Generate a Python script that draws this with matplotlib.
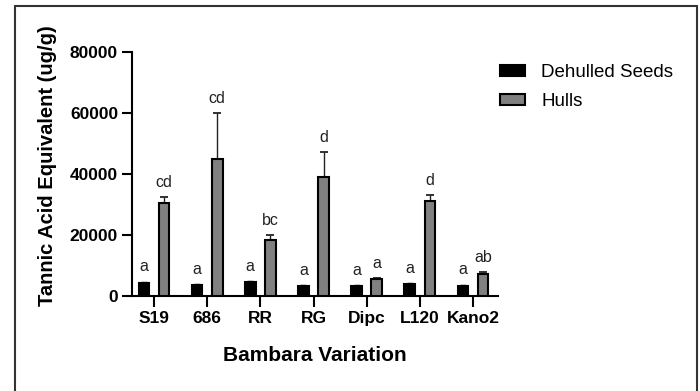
import numpy as np
import matplotlib.pyplot as plt
from matplotlib.patches import Patch, Rectangle

plt.rcParams['font.family'] = ['Liberation Sans', 'DejaVu Sans']

# data
varieties = ['S19', '686', 'RR', 'RG', 'Dipc', 'L120', 'Kano2']
dehulled = [4400, 3600, 4500, 3300, 3300, 3800, 3400]
dehulled_err = [300, 250, 300, 300, 250, 300, 250]
hulls = [30500, 45000, 18400, 39100, 5500, 31300, 7100]
hulls_err = [1900, 15000, 1600, 8200, 500, 1800, 900]
dehulled_letters = ['a', 'a', 'a', 'a', 'a', 'a', 'a']
hulls_letters = ['cd', 'cd', 'bc', 'd', 'a', 'd', 'ab']

x = np.arange(len(varieties))
width = 0.2
offset = 0.19

fig = plt.figure(figsize=(7, 3.91), dpi=100)
ax = fig.add_axes([132 / 700, 1 - 296 / 391, 366 / 700, 244 / 391])

# outer frame around the whole figure
fig.patches.append(Rectangle((15 / 700, -0.05), 682 / 700, 1.05 - 6 / 391,
                             transform=fig.transFigure, fill=False,
                             edgecolor='#333333', linewidth=1.5))

ax.bar(x - offset, dehulled, width, color='black', edgecolor='black',
       linewidth=1.5, zorder=3)
ax.bar(x + offset, hulls, width, color='#808080', edgecolor='black',
       linewidth=1.5, zorder=3)

# upward-only error bars
zeros = np.zeros(len(x))
ax.errorbar(x - offset, dehulled, yerr=[zeros, dehulled_err], fmt='none',
            ecolor='black', elinewidth=1.0, capsize=2.5, capthick=1.0, zorder=2)
ax.errorbar(x + offset, hulls, yerr=[zeros, hulls_err], fmt='none',
            ecolor='#222222', elinewidth=1.0, capsize=3, capthick=1.3, zorder=2)

# significance letters
for i in range(len(x)):
    ax.annotate(dehulled_letters[i], (x[i] - offset, dehulled[i] + dehulled_err[i]),
                xytext=(0, 7.5), textcoords='offset points', ha='center',
                va='baseline', fontsize=11.5, color='#222222')
    ax.annotate(hulls_letters[i], (x[i] + offset, hulls[i] + hulls_err[i]),
                xytext=(0, 7), textcoords='offset points', ha='center',
                va='baseline', fontsize=11.5, color='#222222')

ax.set_xlim(-0.414, 6.47)
ax.set_ylim(0, 80000)
ax.set_yticks([0, 20000, 40000, 60000, 80000])
ax.set_xticks(x)
ax.set_xticklabels(varieties)

for side in ['top', 'right']:
    ax.spines[side].set_visible(False)
for side in ['left', 'bottom']:
    ax.spines[side].set_linewidth(1.5)

ax.tick_params(axis='y', length=7, width=1.5, pad=3, labelsize=12.5)
ax.tick_params(axis='x', length=8, width=1.5, pad=3, labelsize=12.5)
for lab in ax.get_xticklabels() + ax.get_yticklabels():
    lab.set_fontweight('bold')

ax.set_ylabel('Tannic Acid Equivalent (ug/g)', fontsize=14.5, fontweight='bold',
              va='center')
ax.yaxis.set_label_coords(-0.232, 0.533)
ax.set_xlabel('Bambara Variation', fontsize=15, fontweight='bold', va='center')
ax.xaxis.set_label_coords(0.5, -0.243)

handles = [Patch(facecolor='black', edgecolor='black', linewidth=1.5),
           Patch(facecolor='#808080', edgecolor='black', linewidth=1.5)]
fig.legend(handles, ['Dehulled Seeds', 'Hulls'], loc='upper left',
           bbox_to_anchor=(500 / 700, 1 - 64 / 391), frameon=False,
           fontsize=13.5, borderpad=0, borderaxespad=0, labelspacing=0.65,
           handlelength=1.35, handleheight=0.55, handletextpad=0.85)

fig.savefig('out.png', dpi=100)
